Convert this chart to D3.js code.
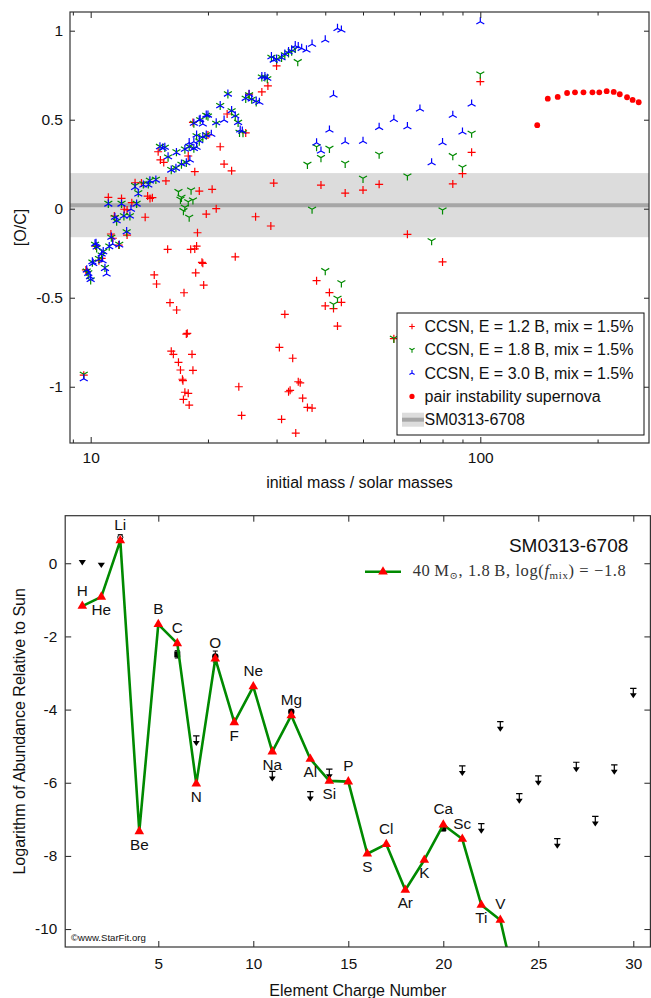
<!DOCTYPE html>
<html>
<head>
<meta charset="utf-8">
<script src="https://cdn.jsdelivr.net/npm/d3@7"></script>
<style>
  body { margin: 0; background: #fff; }
  svg text { font-family: "Liberation Sans", Arial, sans-serif; }
</style>
</head>
<body>
<script>
// ---------------- top panel data: [initial mass, [O/C]] ----------------
const ccsn12 = [
  [9.6,-0.935],[9.72,-0.344],[9.8,-0.354],[10.3,-0.21],[10.5,-0.292],[10.67,-0.279],[11.1,0.064],[11.27,-0.142],
  [11.4,-0.166],[11.5,-0.041],[11.8,-0.204],[12.0,0.058],[12.2,-0.003],[12.4,-0.007],[12.4,-0.148],[12.75,0.034],
  [13.0,0.146],[13.5,0.145],[13.8,-0.048],[14.0,0.071],[14.2,0.058],[14.4,0.062],[14.56,-0.372],[14.76,-0.423],
  [14.9,0.32],[15.1,0.274],[15.4,0.26],[15.6,0.156],[15.76,-0.228],[15.98,-0.528],[16.1,-0.8],[16.3,-0.818],
  [16.62,-0.569],[16.8,-0.863],[17.0,-0.906],[17.2,-0.958],[17.25,-0.966],[17.3,-1.071],[17.36,-0.472],[17.45,-1.031],
  [17.6,-0.704],[17.7,-0.7],[17.8,-1.037],[17.8,0.296],[17.9,-1.103],[18.06,-0.228],[18.2,-0.818],[18.3,-0.908],
  [18.3,0.485],[18.5,-0.226],[18.5,0.208],[18.6,-0.36],[18.7,-0.21],[18.8,-0.135],[19.0,0.099],[19.3,-0.301],
  [19.4,-0.307],[19.5,-0.429],[19.8,-0.03],[20.0,0.414],[20.5,0.109],[21.0,0.0],[21.5,0.348],[22.0,0.251],
  [22.4,0.532],[23.0,0.213],[23.5,-0.27],[24.0,-1.0],[24.4,-1.161],[25.0,0.426],[25.5,0.644],[26.5,-0.045],
  [27.5,0.656],[28.5,0.69],[29.0,-0.097],[29.5,0.144],[30.0,0.802],[30.5,-0.779],[30.9,-1.183],[31.5,-0.593],
  [32.2,-1.028],[32.5,-1.02],[33,-0.84],[33.6,-1.26],[34.1,-0.972],[34.5,-0.978],[35,-1.064],[36,-1.116],
  [37,-1.12],[38,-0.404],[39,0.133],[40,-0.546],[41,-0.471],[42,-0.561],[43,-0.659],[44,-0.526],
  [45,0.088],[50,0.105],[55,0.137],[60,-0.73],[65,-0.144],[80,-0.299],[85,0.139],[90,0.197],[95,0.317],[100,0.714]
];
const ccsn18 = [
  [9.6,-0.93],[9.77,-0.35],[9.86,-0.36],[10.0,-0.4],[10.1,-0.3],[10.26,-0.2],[10.36,-0.22],[10.5,-0.28],
  [10.67,-0.26],[10.77,-0.24],[10.88,-0.33],[11.1,0.03],[11.16,-0.21],[11.3,-0.16],[11.54,-0.05],[11.66,-0.07],
  [11.84,-0.2],[12.0,0.03],[12.17,-0.04],[12.37,-0.13],[12.61,-0.04],[13.0,0.13],[13.12,0.03],[13.25,0.09],
  [13.65,0.14],[14.06,0.14],[14.19,0.16],[14.7,0.165],[15.06,0.35],[15.5,0.345],[15.8,0.29],[16.1,0.22],
  [16.55,0.23],[16.6,0.32],[16.8,0.096],[17.0,0.053],[17.1,0.064],[17.3,-0.011],[17.45,0.008],[17.8,0.039],
  [17.9,-0.048],[18.1,0.105],[18.3,0.049],[17.1,0.25],[17.45,0.335],[17.6,0.26],[17.9,0.35],[18.4,0.34],
  [18.7,0.41],[19.0,0.38],[19.4,0.4],[19.8,0.415],[18.4,0.48],[19.1,0.5],[19.8,0.525],[20.0,0.52],
  [21.0,0.48],[21.5,0.58],[22.5,0.645],[23.0,0.55],[23.5,0.52],[23.9,0.485],[24.1,0.429],[24.6,0.427],
  [25.0,0.62],[25.5,0.64],[25.9,0.615],[26.6,0.6],[27.5,0.74],[28.0,0.74],[28.4,0.73],[29.1,0.85],
  [30.0,0.84],[30.9,0.85],[31.5,0.865],[32.2,0.875],[32.8,0.885],[33.5,0.9],[34,0.826],[36,0.249],
  [37,-0.003],[38,0.348],[39,0.287],[40,-0.348],[41,0.339],[42,-0.537],[43,-0.503],[44,-0.416],
  [45,0.255],[50,0.171],[55,0.306],[60,-0.728],[65,0.184],[75,-0.18],[80,-0.007],[85,0.298],
  [90,0.233],[95,0.424],[100,0.757]
];
const ccsn30 = [
  [9.6,-0.955],[9.77,-0.344],[9.86,-0.363],[9.96,-0.382],[10.0,-0.397],[10.1,-0.298],[10.15,-0.307],[10.26,-0.198],
  [10.32,-0.194],[10.36,-0.215],[10.5,-0.284],[10.67,-0.254],[10.73,-0.292],[10.77,-0.241],[10.88,-0.335],[10.99,-0.367],
  [11.1,0.026],[11.16,-0.213],[11.3,-0.16],[11.39,-0.198],[11.54,-0.048],[11.66,-0.067],[11.84,-0.204],[12.0,0.026],
  [12.17,-0.041],[12.37,-0.129],[12.61,-0.041],[12.69,-0.003],[13.0,0.12],[13.12,0.026],[13.25,0.083],[13.65,0.133],
  [14.06,0.133],[14.19,0.156],[14.7,0.161],[15.06,0.348],[15.3,0.34],[15.5,0.345],[15.8,0.292],[16.1,0.217],
  [16.55,0.227],[16.6,0.315],[17.1,0.251],[17.45,0.334],[17.6,0.258],[17.9,0.348],[17.97,0.274],[17.9,0.371],
  [18.4,0.339],[18.4,0.376],[18.7,0.345],[18.7,0.414],[19.0,0.382],[19.4,0.404],[19.8,0.414],[20.4,0.418],
  [18.4,0.48],[19.0,0.498],[19.4,0.476],[19.1,0.502],[19.8,0.526],[20.0,0.526],[21.0,0.483],[22.0,0.498],
  [21.5,0.579],[22.5,0.644],[23.0,0.551],[23.5,0.522],[23.9,0.485],[24.2,0.442],[24.5,0.436],[25.0,0.62],
  [25.5,0.643],[25.9,0.616],[26.6,0.605],[27.1,0.598],[27.5,0.742],[28.0,0.742],[28.4,0.733],[29.1,0.854],
  [29.5,0.835],[30.0,0.841],[30.9,0.848],[31.5,0.869],[32.2,0.882],[32.8,0.892],[33.5,0.916],[34.1,0.91],
  [34.8,0.901],[35.8,0.892],[37,0.924],[38,0.37],[39,0.324],[40,0.948],[41,0.442],[42,0.639],
  [43,1.013],[44,1.004],[45,0.376],[50,0.379],[55,0.457],[60,0.502],[65,0.461],[70,0.56],
  [75,0.258],[80,0.371],[85,0.525],[90,0.431],[95,0.588],[100,1.05]
];
const pisnMass = [140,149,158,167,175,184,194,202,211,220,228,238,246,255];
const pisnOC   = [0.469,0.618,0.628,0.65,0.654,0.654,0.654,0.654,0.66,0.656,0.643,0.626,0.611,0.598];
const obsOC = 0.02, obsOCErr = 0.18;
const topLegend = ["CCSN, E = 1.2 B, mix = 1.5%", "CCSN, E = 1.8 B, mix = 1.5%",
                   "CCSN, E = 3.0 B, mix = 1.5%", "pair instability supernova", "SM0313-6708"];
const topYTicks = [-1, -0.5, 0, 0.5, 1];
const topXMajor = [10, 100];
const topXMinor = [9, 20, 30, 40, 50, 60, 70, 80, 90, 200];

// ---------------- bottom panel data ----------------
const elements = ["H","He","Li","Be","B","C","N","O","F","Ne","Na","Mg","Al","Si","P","S","Cl","Ar","K","Ca","Sc","Ti","V","Cr"];
const modelAbund = [-1.17,-0.92,0.62,-7.33,-1.67,-2.19,-6.03,-2.61,-4.35,-3.37,-5.15,-4.16,
                    -5.35,-5.95,-5.97,-7.94,-7.68,-8.93,-8.11,-7.15,-7.54,-9.34,-9.75,-12.0];
const labelSide = ["up","down","up","down","up","up","down","up","down","up","down","up",
                   "down","down","up","down","up","down","down","up","up","down","up"];
const detZ   = [3, 6, 8, 12, 20];
const detVal = [0.71, -2.49, -2.55, -4.06, -7.24];
const detErr = [0.07, 0.1, 0.15, 0.05, 0.08];
const detKind = ["open", "square", "circle", "circle", "square"];
const limZ   = [7, 11, 13, 14, 21, 22, 23, 24, 25, 26, 27, 28, 29, 30];
const limVal = [-4.72,-5.69,-6.24,-5.63,-5.54,-7.12,-4.33,-6.30,-5.81,-7.53,-5.44,-6.92,-5.51,-3.42];
const triZ   = [1, 2];
const triVal = [0.02, -0.05];
const botXTicks = [5, 10, 15, 20, 25, 30];
const botYTicks = [0, -2, -4, -6, -8, -10];

const RED = "#ff0000", GREEN = "#008a00", BLUE = "#0000ff", INK = "#222";

const svg = d3.select("body").append("svg").attr("width", 651).attr("height", 998);

const plus   = s => `M${-s},0H${s}M0,${-s}V${s}`;
const triDn  = s => `M0,0V${s}M0,0L${-s*0.866},${-s*0.5}M0,0L${s*0.866},${-s*0.5}`;
const triUp  = s => `M0,0V${-s}M0,0L${-s*0.866},${s*0.5}M0,0L${s*0.866},${s*0.5}`;

function styleAxis(g, size) {
  g.select(".domain").remove();
  g.selectAll(".tick line").attr("stroke", INK);
  g.selectAll(".tick text").attr("fill", "#111").attr("font-size", size);
}

// ================= TOP PANEL =================
const T = { l: 70, r: 649, t: 12, b: 443 };
const x = d3.scaleLog().domain([8.85, 271]).range([T.l, T.r]);
const y = d3.scaleLinear().domain([-1.316, 1.105]).range([T.b, T.t]);

svg.append("clipPath").attr("id", "clipTop").append("rect")
  .attr("x", T.l).attr("y", T.t).attr("width", T.r - T.l).attr("height", T.b - T.t);

const topG = svg.append("g").attr("clip-path", "url(#clipTop)");
topG.append("rect").attr("x", T.l).attr("width", T.r - T.l)
  .attr("y", y(obsOC + obsOCErr)).attr("height", y(obsOC - obsOCErr) - y(obsOC + obsOCErr))
  .attr("fill", "#dcdcdc");
topG.append("line").attr("x1", T.l).attr("x2", T.r).attr("y1", y(obsOC)).attr("y2", y(obsOC))
  .attr("stroke", "#a6a6a6").attr("stroke-width", 4);

function scatter(data, path, color) {
  topG.append("g").selectAll("path").data(data).enter().append("path")
    .attr("transform", d => `translate(${x(d[0])},${y(d[1])})`)
    .attr("d", path).attr("fill", "none").attr("stroke", color).attr("stroke-width", 1.2);
}
scatter(ccsn12, plus(4), RED);
scatter(ccsn18, triDn(4.6), GREEN);
scatter(ccsn30, triUp(4.6), BLUE);
topG.append("g").selectAll("circle").data(pisnMass).enter().append("circle")
  .attr("cx", d => x(d)).attr("cy", (d, i) => y(pisnOC[i])).attr("r", 2.9).attr("fill", RED);

// axes
svg.append("g").attr("transform", `translate(0,${T.b})`)
  .call(d3.axisBottom(x).tickValues(topXMajor).tickSize(-6).tickPadding(9).tickFormat(d => String(d)))
  .call(g => styleAxis(g, 15.5));
svg.append("g").attr("transform", `translate(0,${T.b})`)
  .call(d3.axisBottom(x).tickValues(topXMinor).tickSize(-3.5).tickFormat(""))
  .call(g => styleAxis(g, 15.5));
svg.append("g").attr("transform", `translate(0,${T.t})`)
  .call(d3.axisTop(x).tickValues(topXMajor).tickSize(-6).tickFormat(""))
  .call(g => styleAxis(g, 15.5));
svg.append("g").attr("transform", `translate(0,${T.t})`)
  .call(d3.axisTop(x).tickValues(topXMinor).tickSize(-3.5).tickFormat(""))
  .call(g => styleAxis(g, 15.5));
svg.append("g").attr("transform", `translate(${T.l},0)`)
  .call(d3.axisLeft(y).tickValues(topYTicks).tickSize(-5).tickPadding(7).tickFormat(d => String(d)))
  .call(g => styleAxis(g, 15.5));
svg.append("g").attr("transform", `translate(${T.r},0)`)
  .call(d3.axisRight(y).tickValues(topYTicks).tickSize(-5).tickFormat(""))
  .call(g => styleAxis(g, 15.5));
svg.append("rect").attr("x", T.l).attr("y", T.t).attr("width", T.r - T.l).attr("height", T.b - T.t)
  .attr("fill", "none").attr("stroke", "#333").attr("stroke-width", 1.2);

svg.append("text").attr("x", (T.l + T.r) / 2).attr("y", 488).attr("text-anchor", "middle")
  .attr("font-size", 16).attr("fill", "#111").text("initial mass / solar masses");
svg.append("text").attr("transform", `translate(26,${(T.t + T.b) / 2}) rotate(-90)`)
  .attr("text-anchor", "middle").attr("font-size", 16).attr("fill", "#111").text("[O/C]");

// legend
const lg = svg.append("g").attr("transform", "translate(397,313)");
lg.append("rect").attr("width", 247).attr("height", 122).attr("fill", "#fff")
  .attr("stroke", "#111").attr("stroke-width", 1);
topLegend.forEach((label, i) => {
  const cy = 13.5 + i * 23.3;
  const s = lg.append("g").attr("transform", `translate(15,${cy})`);
  if (i === 0) s.append("path").attr("d", plus(2.8)).attr("stroke", RED).attr("fill", "none").attr("stroke-width", 1.1);
  if (i === 1) s.append("path").attr("d", triDn(3)).attr("stroke", GREEN).attr("fill", "none").attr("stroke-width", 1.1);
  if (i === 2) s.append("path").attr("d", triUp(3)).attr("stroke", BLUE).attr("fill", "none").attr("stroke-width", 1.1);
  if (i === 3) s.append("circle").attr("r", 2.6).attr("fill", RED);
  if (i === 4) {
    s.append("rect").attr("x", -10).attr("y", -7).attr("width", 22).attr("height", 14).attr("fill", "#dcdcdc");
    s.append("line").attr("x1", -10).attr("x2", 12).attr("stroke", "#a6a6a6").attr("stroke-width", 4);
  }
  lg.append("text").attr("x", 27.5).attr("y", cy + 5.5).attr("font-size", 16).attr("fill", "#111").text(label);
});

// ================= BOTTOM PANEL =================
const B = { l: 65.2, r: 650.4, t: 515.7, b: 947 };
const bx = d3.scaleLinear().domain([0.1, 30.9]).range([B.l, B.r]);
const by = d3.scaleLinear().domain([-10.49, 1.30]).range([B.b, B.t]);

svg.append("clipPath").attr("id", "clipBot").append("rect")
  .attr("x", B.l).attr("y", B.t).attr("width", B.r - B.l).attr("height", B.b - B.t);
const bot = svg.append("g").attr("clip-path", "url(#clipBot)");

const model = elements.map((e, i) => ({ z: i + 1, v: modelAbund[i], e }));

// upper limits
const lim = bot.append("g").selectAll("g").data(limZ).enter().append("g")
  .attr("transform", (d, i) => `translate(${bx(d)},${by(limVal[i])})`);
lim.append("path").attr("d", "M-3.2,0H3.2M0,0V6").attr("stroke", "#000").attr("stroke-width", 1.2);
lim.append("path").attr("d", "M-3.4,5L3.4,5L0,10Z").attr("fill", "#000");
bot.append("g").selectAll("path").data(triZ).enter().append("path")
  .attr("transform", (d, i) => `translate(${bx(d)},${by(triVal[i])})`)
  .attr("d", "M-3.6,-2.4L3.6,-2.4L0,3Z").attr("fill", "#000");

// detections with error bars
const det = bot.append("g").selectAll("g").data(detZ).enter().append("g")
  .attr("transform", (d, i) => `translate(${bx(d)},${by(detVal[i])})`);
det.append("path")
  .attr("d", (d, i) => {
    const h = by(detVal[i] - detErr[i]) - by(detVal[i]);
    return `M0,${-h}V${h}M-2.5,${-h}H2.5M-2.5,${h}H2.5`;
  })
  .attr("stroke", "#000").attr("stroke-width", 1);
det.each(function (d, i) {
  const g = d3.select(this);
  if (detKind[i] === "square") g.append("rect").attr("x", -3).attr("y", -3).attr("width", 6).attr("height", 6).attr("fill", "#000");
  else if (detKind[i] === "circle") g.append("circle").attr("r", 3.2).attr("fill", "#000");
  else g.append("circle").attr("r", 2.6).attr("fill", "#fff").attr("stroke", "#000").attr("stroke-width", 1);
});

// model line
bot.append("path").datum(model)
  .attr("d", d3.line().x(d => bx(d.z)).y(d => by(d.v)))
  .attr("fill", "none").attr("stroke", GREEN).attr("stroke-width", 2.6).attr("stroke-linejoin", "round");
bot.append("g").selectAll("path").data(model).enter().append("path")
  .attr("transform", d => `translate(${bx(d.z)},${by(d.v)})`)
  .attr("d", d3.symbol(d3.symbolTriangle, 40)).attr("fill", RED);

// element labels
svg.append("g").selectAll("text").data(model.slice(0, labelSide.length)).enter().append("text")
  .attr("x", d => bx(d.z))
  .attr("y", (d, i) => by(d.v) + (labelSide[i] === "up" ? -10.5 : 18.5))
  .attr("text-anchor", "middle").attr("font-size", 15.3).attr("fill", "#111")
  .text(d => d.e);

// axes
svg.append("g").attr("transform", `translate(0,${B.b})`)
  .call(d3.axisBottom(bx).tickValues(botXTicks).tickSize(-6).tickPadding(11).tickFormat(d => String(d)))
  .call(g => styleAxis(g, 15.3));
svg.append("g").attr("transform", `translate(0,${B.t})`)
  .call(d3.axisTop(bx).tickValues(botXTicks).tickSize(-6).tickFormat(""))
  .call(g => styleAxis(g, 15.3));
svg.append("g").attr("transform", `translate(${B.l},0)`)
  .call(d3.axisLeft(by).tickValues(botYTicks).tickSize(-6).tickPadding(8).tickFormat(d => String(d)))
  .call(g => styleAxis(g, 15.3));
svg.append("g").attr("transform", `translate(${B.r},0)`)
  .call(d3.axisRight(by).tickValues(botYTicks).tickSize(-6).tickFormat(""))
  .call(g => styleAxis(g, 15.3));
svg.append("rect").attr("x", B.l).attr("y", B.t).attr("width", B.r - B.l).attr("height", B.b - B.t)
  .attr("fill", "none").attr("stroke", "#333").attr("stroke-width", 1.2);

svg.append("text").attr("x", (B.l + B.r) / 2).attr("y", 996).attr("text-anchor", "middle")
  .attr("font-size", 16).attr("fill", "#111").text("Element Charge Number");
svg.append("text").attr("transform", `translate(25,${(B.t + B.b) / 2}) rotate(-90)`)
  .attr("text-anchor", "middle").attr("font-size", 16).attr("fill", "#111")
  .text("Logarithm of Abundance Relative to Sun");

svg.append("text").attr("x", 628.3).attr("y", 552).attr("text-anchor", "end")
  .attr("font-size", 19).attr("fill", "#111").text("SM0313-6708");

const bl = svg.append("g");
bl.append("line").attr("x1", 365).attr("x2", 401).attr("y1", 571.7).attr("y2", 571.7)
  .attr("stroke", GREEN).attr("stroke-width", 2.6);
bl.append("path").attr("transform", "translate(383,571.7)").attr("d", d3.symbol(d3.symbolTriangle, 40)).attr("fill", RED);
const lt = bl.append("text").attr("x", 412.7).attr("y", 576)
  .style("font-family", '"Liberation Serif", "DejaVu Serif", serif')
  .attr("font-size", 16.5).attr("fill", "#333")
  .attr("textLength", 213).attr("lengthAdjust", "spacing");
lt.append("tspan").text("40\u2009M");
lt.append("tspan").attr("font-size", 10).attr("dy", 3).text("\u2299");
lt.append("tspan").attr("dy", -3).text(", 1.8\u2009B,  log(");
lt.append("tspan").attr("font-style", "italic").text("f");
lt.append("tspan").attr("font-size", 11).attr("dy", 3).text("mix");
lt.append("tspan").attr("dy", -3).text(") = \u22121.8");

svg.append("text").attr("x", 71).attr("y", 941).attr("font-size", 9.6).attr("fill", "#111")
  .text("\u00a9www.StarFit.org");
</script>
</body>
</html>
